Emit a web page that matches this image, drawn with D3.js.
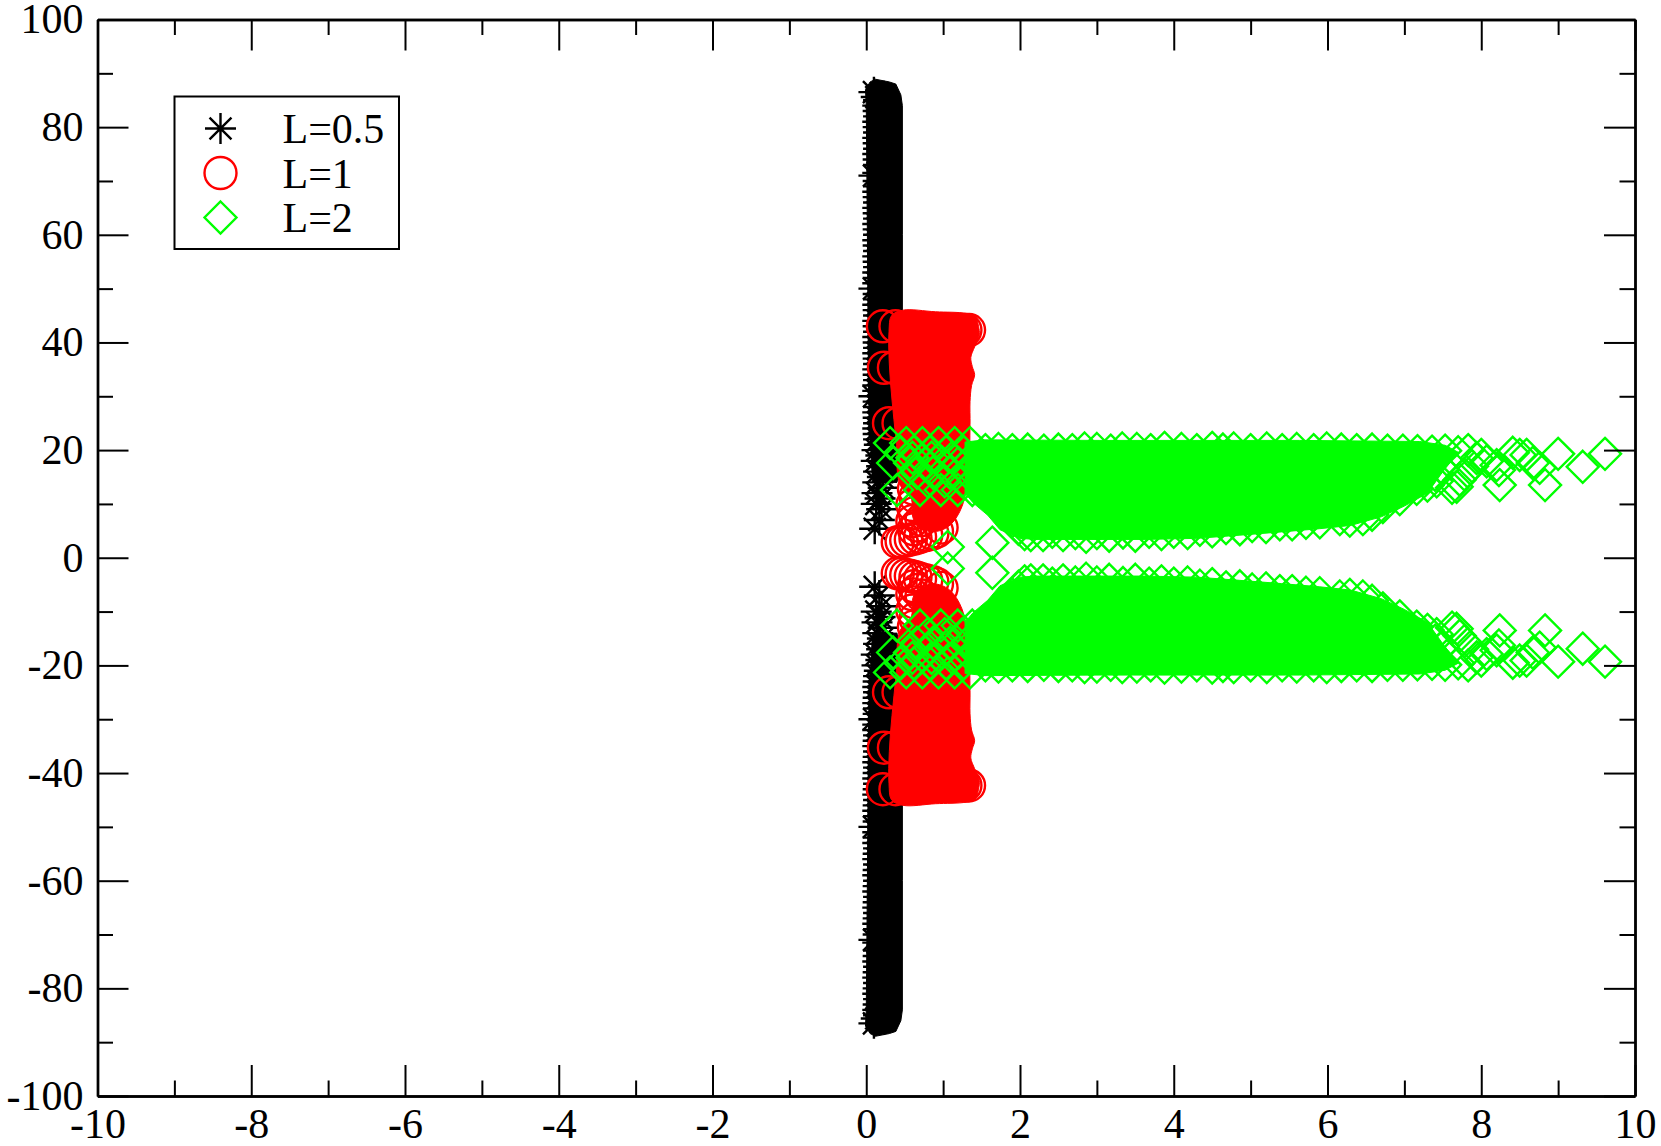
<!DOCTYPE html>
<html><head><meta charset="utf-8">
<script src="https://cdn.jsdelivr.net/npm/d3@7"></script>
<style>html,body{margin:0;background:#fff}svg{display:block}text{font-family:"Liberation Serif",serif;fill:#000}</style>
</head><body><svg id="c" width="1661" height="1146"></svg>
<script>
// Values. The cloud is mirror-symmetric in y, so the upper half is listed.
const xTicks=[-10,-8,-6,-4,-2,0,2,4,6,8,10];
const xMinor=[-9,-7,-5,-3,-1,1,3,5,7,9];
const yTicks=[-100,-80,-60,-40,-20,0,20,40,60,80,100];
const yMinor=[-90,-70,-50,-30,-10,10,30,50,70,90];
const seriesNames=["L=0.5","L=1","L=2"];

// outlines [x,y] of the regions where the markers merge into solid colour
const blackOutline=[[.12,88.9],[.3,88.4],[.385,88],[.45,86],[.47,84],[.47,60],[.47,20],[.40,14],[.08,14],[.03,30],[.015,60],[0,84],[-.01,87],[.05,88.4]];
const redOutline=[[.478,46],[.9,45.7],[1.3,45.4],[1.42,44.8],[1.46,43],[1.47,41.4],[1.41,39.2],[1.36,37.2],[1.38,35.5],[1.41,34],[1.37,32],[1.35,29],[1.35,24.7],[1.33,16.3],[1.245,9.5],[1.1,6.2],[.95,5],[.8,5],[.62,7],[.58,11.3],[.44,13.5],[.387,21.9],[.335,29.3],[.3,36],[.296,42],[.33,45]];
const greenOutline=[[1.285,21.5],[1.545,21.9],[3.04,21.8],[5.64,21.8],[7.2,21.6],[7.53,20.9],[7.7,19.6],[7.5,16],[7.3,12],[7,9.6],[6.7,7.6],[6.3,6],[5.9,5.4],[5.4,4.8],[4.86,4.2],[4.3,3.6],[3.6,3.4],[2.2,3.4],[2,3.6],[1.74,5.2],[1.58,7.9],[1.39,10.2],[1.285,12]];

// black stars along the left edge of the band
const starX=[.10,.13,.16,.15,.155,.16,.15,.155,.16,.15,.155,.16,.15,.155,.16,.10,.15,.155,.16,.15,.155,.16,.15,.155,.16,.15,.155,.16,.15,.155,.16,.15,.155,.16,.15,.155,.10,.15,.155,.16,.15,.155,.16,.15,.155,.16,.15,.155,.16,.15,.155,.16,.15,.155,.16,.15,.10,.15,.155,.16,.15,.155,.16,.15,.155,.16,.17,.14,.19,.13,.2,.16,.21,.15,.22,.14,.18,.13,.2,.17,.11];
const starY=[86.5,85.6,85,84,83,82,81,80,79,78,77,76,75,74,73,71,71.5,70,69,68,67,66,65,64,63,62,61,60,59,58,57,56,55,54,53,52,50,51,49,48,47,46,45,44,43,42,41,40,39,38,37,36,35,34,33,32,30,31,29,28,27,26,25,24,23,22,21,20,19,18,17,16,15,14,13,12,11,10,9,7,5.4];

// red circles left and right of the solid area, and the hatched fan below it
const redEdge=[[.216,43],[.38,43],[.23,35.3],[.36,35.3],[.296,25],[.42,25],[1.337,42.3],[1.29,42.3]];
const redFan=[[.41,2.9],[.46,3],[.52,3.2],[.58,3.4],[.64,3.6],[.70,3.9],[.78,4.2],[.86,4.5],[.92,4.9],[.98,5.6],[.62,5.3],[.6,6.8],[.63,8.3],[.6,9.8],[.64,11.3],[.62,12.8],[.66,6],[.72,7]];

// green diamonds
const greenLeft=[[.31,21.3],[.52,21.3],[.73,21.3],[.94,21.3],[1.15,21.3],[1.35,21.3],[.35,17.6],[.57,17.6],[.77,17.6],[.99,17.6],[1.2,17.6],[1.41,17.6],[.40,12.6],[.70,12.6],[.97,12.6],[1.19,12.6],[1.38,12.6],[.45,19.6],[.62,19.6],[.83,19.6],[1.04,19.6],[1.27,19.6],[.66,15.8],[.87,15.8],[1.09,15.8],[1.31,15.8],[.8,14.2],[1.02,14.2],[1.25,14.2],[.6,18.6],[.85,18.6],[1.12,18.6]];
const greenLone=[[1.06,2],[1.64,2.8]];
const greenTop=[[1.55,20],[1.72,20.2],[1.9,20],[2.1,20.1],[2.31,19.9],[2.5,20.1],[2.68,20],[2.84,20.3],[3.0,20.2],[3.18,19.9],[3.33,20.3],[3.52,20.2],[3.7,20],[3.88,20.4],[4.1,20.2],[4.3,20],[4.5,20.4],[4.64,20.1],[4.78,20.3],[5,20],[5.21,20.3],[5.41,20],[5.6,20.2],[5.82,20],[5.99,20.3],[6.18,20.1],[6.38,20],[6.58,20.1],[6.78,19.9],[6.98,19.9],[7.17,19.8],[7.36,19.7],[7.53,19.9],[7.7,19.6]];
const greenBottom=[[1.78,8.5],[1.9,6.8],[1.98,5.4],[2.06,4.4],[2.14,4.2],[2.3,4.2],[2.42,4.8],[2.56,4.2],[2.72,4.6],[2.86,3.9],[3,4.6],[3.16,4.1],[3.34,4.7],[3.5,4.1],[3.68,4.8],[3.84,4.4],[4,4.8],[4.18,4.6],[4.34,5.2],[4.5,4.9],[4.68,5.5],[4.86,5.3],[5.02,5.9],[5.2,5.7],[5.38,6.2],[5.54,6.2],[5.72,6.5],[5.9,6.6],[6.16,7.2],[6.29,6.9],[6.46,7.2],[6.58,8],[6.72,9.4],[6.94,10.9],[7.16,12.8],[7.3,13.4],[7.42,14.2]];
const greenTail=[[9.61,19.3],[9.32,16.9],[9,19.3],[8.83,13.5],[8.76,16.7],[8.59,19.1],[8.5,19.1],[8.41,19.5],[8.24,13.5],[8.23,16.3],[8.2,17.2],[8,19.1],[7.94,18.5],[7.83,20],[7.68,13.2],[7.62,13],[7.72,14.5],[8.07,17.9],[8.67,17.6],[7.5,16.4],[7.78,15.5],[7.88,17],[7.4,15.4]];

const W=1661,H=1146,L=97.5,R=1635,T=19.5,B=1096;
const x=d3.scaleLinear().domain([-10,10]).range([L,R]);
const y=d3.scaleLinear().domain([-100,100]).range([B,T]);
const svg=d3.select("#c");
const RAD=16,SW=2.4;
const BLACK="#000",RED="#ff0000",GREEN="#00ff00";

const starPath=(()=>{const r=15.5,k=r*Math.SQRT1_2;return `M${-r},0H${r}M0,${-r}V${r}M${-k},${-k}L${k},${k}M${-k},${k}L${k},${-k}`})();
const diamondPath=`M0,${-RAD}L${RAD},0L0,${RAD}L${-RAD},0Z`;

function solid(outline,col,curve){
  [1,-1].forEach(s=>svg.append("path").datum(outline)
    .attr("d",d3.line().x(d=>x(d[0])).y(d=>y(s*d[1])).curve(curve))
    .attr("fill",col).attr("stroke",col).attr("stroke-width",1));
}
function marks(list,kind,col){
  const g=svg.append("g").attr("fill","none").attr("stroke",col).attr("stroke-width",SW);
  const pts=list.concat(list.map(d=>[d[0],-d[1]]));
  if(kind==="circle") g.selectAll("circle").data(pts).join("circle").attr("cx",d=>x(d[0])).attr("cy",d=>y(d[1])).attr("r",RAD);
  else g.selectAll("path").data(pts).join("path").attr("d",kind==="star"?starPath:diamondPath)
       .attr("transform",d=>`translate(${x(d[0])},${y(d[1])})`);
}

solid(blackOutline,BLACK,d3.curveLinearClosed);
marks(starX.map((v,i)=>[v,starY[i]]),"star",BLACK);
solid(redOutline,RED,d3.curveCatmullRomClosed);
marks(redEdge.concat(redFan),"circle",RED);
solid(greenOutline,GREEN,d3.curveLinearClosed);
marks(greenLeft.concat(greenLone,greenTop,greenBottom,greenTail),"diamond",GREEN);

// frame and ticks on all four sides, pointing inward
function axisLayer(gen,tx,ty,vals,size,fmt,pad){
  const a=gen.tickValues(vals).tickSize(size).tickSizeOuter(0).tickPadding(pad).tickFormat(fmt);
  const g=svg.append("g").attr("transform",`translate(${tx},${ty})`).call(a);
  g.selectAll("path.domain").attr("stroke","#000").attr("stroke-width",2.4);
  g.selectAll("line").attr("stroke","#000").attr("stroke-width",2);
  g.selectAll("text").attr("font-size",42).attr("font-family","Liberation Serif").attr("fill","#000");
  return g;
}
const label=d=>String(d),none=()=>"";
axisLayer(d3.axisBottom(x),0,B,xTicks,-31,label,12);
axisLayer(d3.axisBottom(x),0,B,xMinor,-15.5,none,0);
axisLayer(d3.axisTop(x),0,T,xTicks,-31,none,0);
axisLayer(d3.axisTop(x),0,T,xMinor,-15.5,none,0);
axisLayer(d3.axisLeft(y),L,0,yTicks,-31,label,14);
axisLayer(d3.axisLeft(y),L,0,yMinor,-15.5,none,0);
axisLayer(d3.axisRight(y),R,0,yTicks,-31,none,0);
axisLayer(d3.axisRight(y),R,0,yMinor,-15.5,none,0);

// legend
svg.append("rect").attr("x",174.5).attr("y",96.5).attr("width",224.5).attr("height",152.5)
  .attr("fill","#fff").attr("stroke","#000").attr("stroke-width",2);
const legendRows=[128.5,173,217.5], legendBase=[142.5,187.5,232];
const lg=svg.append("g").attr("fill","none").attr("stroke-width",SW);
lg.append("path").attr("d",starPath).attr("stroke",BLACK).attr("transform",`translate(220.5,${legendRows[0]})`);
lg.append("circle").attr("r",RAD).attr("stroke",RED).attr("cx",220.5).attr("cy",legendRows[1]);
lg.append("path").attr("d",diamondPath).attr("stroke",GREEN).attr("transform",`translate(220.5,${legendRows[2]})`);
svg.selectAll("text.leg").data(seriesNames).join("text").attr("class","leg")
  .attr("x",282.5).attr("y",(d,i)=>legendBase[i]).attr("font-size",42).text(d=>d);
</script></body></html>
